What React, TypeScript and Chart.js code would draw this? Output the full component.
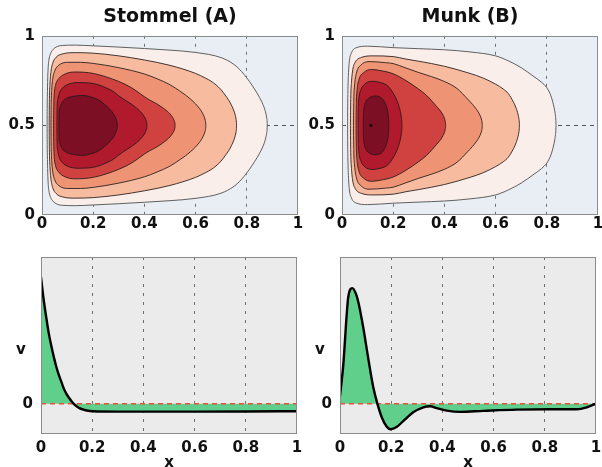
import React, { useEffect, useRef } from 'react';
import { Chart, registerables } from 'chart.js';

Chart.register(...registerables);

const FONT = '"DejaVu Sans", Arial, sans-serif';

// ---------- axis ticks ----------
const xTicks = [0, 0.2, 0.4, 0.6, 0.8, 1];
const xTickLabels = ['0', '0.2', '0.4', '0.6', '0.8', '1'];
const psiYTicks = [0, 0.5, 1];
const psiYTickLabels = ['0', '0.5', '1'];
const vYTicks = [0];
const vYTickLabels = ['0'];

const stommelTitle = 'Stommel (A)';
const munkTitle = 'Munk (B)';
const vLabel = 'v';
const xLabel = 'x';

// ---------- contour fills (outer -> inner) ----------
const contourFills = ['#faeeea', '#f7bba0', '#ee9474', '#cf4240', '#b1192d', '#7d0f25'];

// Stommel streamfunction contours: upper half edge [x, y], outer -> inner (symmetric about y = 0.5)
const stommelC1 = [[0.02, 0.5], [0.0202, 0.56], [0.0205, 0.62], [0.021, 0.67], [0.022, 0.74], [0.024, 0.82], [0.027, 0.865], [0.032, 0.895], [0.04, 0.918], [0.055, 0.937], [0.08, 0.946], [0.13, 0.948], [0.2, 0.944], [0.3, 0.937], [0.4, 0.929], [0.5, 0.92], [0.6, 0.907], [0.7, 0.878], [0.75, 0.84], [0.78, 0.8], [0.8, 0.765], [0.82, 0.725], [0.84, 0.68], [0.85, 0.655], [0.86, 0.627], [0.87, 0.59], [0.875, 0.563], [0.878, 0.54], [0.8795, 0.52], [0.88, 0.5]];
const stommelC2 = [[0.028, 0.5], [0.0283, 0.57], [0.029, 0.65], [0.031, 0.73], [0.035, 0.8], [0.042, 0.848], [0.055, 0.88], [0.08, 0.899], [0.13, 0.906], [0.2, 0.903], [0.3, 0.888], [0.4, 0.865], [0.5, 0.835], [0.6, 0.79], [0.64, 0.763], [0.66, 0.747], [0.68, 0.726], [0.7, 0.698], [0.715, 0.67], [0.73, 0.639], [0.74, 0.613], [0.75, 0.58], [0.755, 0.557], [0.758, 0.536], [0.7595, 0.518], [0.76, 0.5]];
const stommelC3 = [[0.035, 0.5], [0.0353, 0.56], [0.036, 0.63], [0.038, 0.7], [0.042, 0.76], [0.05, 0.805], [0.065, 0.835], [0.1, 0.852], [0.15, 0.852], [0.2, 0.846], [0.3, 0.822], [0.4, 0.787], [0.45, 0.76], [0.5, 0.727], [0.54, 0.69], [0.56, 0.67], [0.58, 0.647], [0.6, 0.62], [0.61, 0.604], [0.62, 0.585], [0.63, 0.56], [0.635, 0.542], [0.638, 0.527], [0.6395, 0.513], [0.64, 0.5]];
const stommelC4 = [[0.045, 0.5], [0.0453, 0.56], [0.046, 0.62], [0.048, 0.68], [0.053, 0.725], [0.065, 0.76], [0.09, 0.787], [0.13, 0.798], [0.2, 0.79], [0.3, 0.745], [0.35, 0.71], [0.4, 0.66], [0.42, 0.642], [0.45, 0.619], [0.47, 0.6], [0.49, 0.578], [0.5, 0.564], [0.51, 0.545], [0.515, 0.532], [0.518, 0.52], [0.5195, 0.51], [0.52, 0.5]];
const stommelC5 = [[0.058, 0.5], [0.0583, 0.55], [0.059, 0.6], [0.062, 0.645], [0.068, 0.68], [0.08, 0.708], [0.1, 0.728], [0.14, 0.739], [0.2, 0.734], [0.25, 0.71], [0.28, 0.688], [0.3, 0.665], [0.33, 0.636], [0.35, 0.618], [0.37, 0.596], [0.38, 0.583], [0.39, 0.568], [0.4, 0.548], [0.405, 0.534], [0.408, 0.521], [0.4095, 0.511], [0.41, 0.5]];
const stommelC6 = [[0.066, 0.5], [0.0663, 0.54], [0.067, 0.575], [0.07, 0.6], [0.078, 0.628], [0.095, 0.65], [0.12, 0.662], [0.16, 0.667], [0.2, 0.655], [0.22, 0.643], [0.244, 0.618], [0.264, 0.592], [0.274, 0.575], [0.284, 0.553], [0.289, 0.537], [0.292, 0.524], [0.2935, 0.512], [0.294, 0.5]];

// Munk streamfunction contours
const munkC1 = [[0.022, 0.5], [0.0222, 0.58], [0.023, 0.68], [0.025, 0.78], [0.029, 0.86], [0.037, 0.905], [0.055, 0.933], [0.1, 0.942], [0.2, 0.934], [0.3, 0.928], [0.4, 0.922], [0.5, 0.91], [0.6, 0.888], [0.65, 0.86], [0.7, 0.822], [0.75, 0.772], [0.78, 0.74], [0.8, 0.71], [0.816, 0.665], [0.826, 0.615], [0.831, 0.581], [0.834, 0.551], [0.8355, 0.526], [0.836, 0.5]];
const munkC2 = [[0.033, 0.5], [0.0333, 0.57], [0.034, 0.65], [0.037, 0.74], [0.042, 0.81], [0.052, 0.853], [0.075, 0.879], [0.12, 0.888], [0.2, 0.884], [0.25, 0.87], [0.3, 0.858], [0.4, 0.83], [0.5, 0.79], [0.55, 0.765], [0.6, 0.73], [0.63, 0.703], [0.65, 0.677], [0.67, 0.629], [0.68, 0.597], [0.688, 0.56], [0.691, 0.538], [0.6925, 0.519], [0.693, 0.5]];
const munkC3 = [[0.045, 0.5], [0.0453, 0.57], [0.046, 0.64], [0.049, 0.72], [0.056, 0.79], [0.075, 0.838], [0.11, 0.856], [0.17, 0.85], [0.2, 0.845], [0.25, 0.82], [0.3, 0.795], [0.35, 0.772], [0.4, 0.745], [0.45, 0.705], [0.49, 0.648], [0.51, 0.617], [0.525, 0.59], [0.535, 0.568], [0.543, 0.542], [0.546, 0.527], [0.5475, 0.513], [0.548, 0.5]];
const munkC4 = [[0.055, 0.5], [0.0553, 0.57], [0.056, 0.63], [0.059, 0.7], [0.066, 0.755], [0.085, 0.795], [0.115, 0.812], [0.15, 0.806], [0.2, 0.788], [0.25, 0.75], [0.3, 0.702], [0.33, 0.668], [0.35, 0.638], [0.37, 0.605], [0.385, 0.58], [0.395, 0.556], [0.4, 0.54], [0.403, 0.525], [0.4045, 0.5125], [0.405, 0.5]];
const munkC5 = [[0.063, 0.5], [0.0633, 0.56], [0.064, 0.61], [0.067, 0.66], [0.074, 0.7], [0.09, 0.732], [0.12, 0.746], [0.16, 0.735], [0.175, 0.725], [0.19, 0.702], [0.202, 0.675], [0.212, 0.648], [0.222, 0.61], [0.228, 0.577], [0.232, 0.545], [0.2335, 0.522], [0.234, 0.5]];
const munkC6 = [[0.083, 0.5], [0.0833, 0.54], [0.084, 0.57], [0.087, 0.605], [0.094, 0.635], [0.108, 0.655], [0.13, 0.664], [0.145, 0.66], [0.158, 0.648], [0.168, 0.625], [0.175, 0.6], [0.179, 0.575], [0.181, 0.553], [0.1825, 0.522], [0.183, 0.5]];
const munkCentre = [0.113, 0.5];

// ---------- meridional velocity v(x) ----------
const stommelX = [0, 0.01, 0.02, 0.03, 0.04, 0.05, 0.06, 0.07, 0.08, 0.09, 0.1, 0.11, 0.12, 0.13, 0.15, 0.17, 0.19, 0.22, 0.3, 0.4, 0.6, 0.8, 1.0];
const stommelV = [1.0, 0.83, 0.69, 0.56, 0.46, 0.37, 0.29, 0.225, 0.17, 0.115, 0.075, 0.045, 0.018, -0.005, -0.035, -0.05, -0.058, -0.062, -0.063, -0.063, -0.063, -0.062, -0.06];

const munkX = [0, 0.013, 0.026, 0.032, 0.048, 0.062, 0.072, 0.091, 0.111, 0.13, 0.146, 0.163, 0.182, 0.198, 0.221, 0.247, 0.286, 0.326, 0.352, 0.378, 0.417, 0.469, 0.56, 0.69, 0.82, 0.925, 0.964, 1.0];
const munkV = [0.06, 0.31, 0.7, 0.84, 0.914, 0.87, 0.8, 0.6, 0.35, 0.13, 0.0, -0.107, -0.18, -0.203, -0.185, -0.138, -0.068, -0.029, -0.021, -0.036, -0.055, -0.065, -0.057, -0.047, -0.044, -0.044, -0.029, 0.0];

const vMin = -0.24;
const vMax = 1.16;

const GREEN = '#5fcf8b';
const ZERO_RED = '#ee4f3a';

type Txt = { text: string; dx: number; dy: number; from: 'left' | 'center' };

function decor(bg: string, texts: Txt[]) {
  return {
    id: 'decor',
    beforeDraw(chart: any) {
      const { ctx, chartArea: a } = chart;
      ctx.save();
      ctx.fillStyle = bg;
      ctx.fillRect(a.left, a.top, a.right - a.left, a.bottom - a.top);
      ctx.restore();
    },
    afterDraw(chart: any) {
      const { ctx, chartArea: a } = chart;
      ctx.save();
      ctx.strokeStyle = '#8c8c8c';
      ctx.lineWidth = 1;
      ctx.strokeRect(Math.round(a.left) + 0.5, Math.round(a.top) + 0.5, Math.round(a.right - a.left) - 1, Math.round(a.bottom - a.top) - 1);
      ctx.fillStyle = '#111';
      ctx.font = 'bold 15px ' + FONT;
      ctx.textAlign = 'center';
      ctx.textBaseline = 'middle';
      for (const t of texts) {
        const x = t.from === 'left' ? a.left + t.dx : (a.left + a.right) / 2 + t.dx;
        ctx.fillText(t.text, x, a.top + t.dy);
      }
      ctx.restore();
    },
  };
}

const tickFont = { family: FONT, size: 15, weight: 'bold' as const };

function xScale(height: number, pad: number, gridColor: string, dash: number[], z: number) {
  return {
    type: 'linear' as const,
    min: 0,
    max: 1,
    z,
    afterBuildTicks: (s: any) => {
      s.ticks = xTicks.map((v) => ({ value: v }));
    },
    afterFit: (s: any) => {
      s.height = height;
    },
    ticks: {
      autoSkip: false,
      maxRotation: 0,
      minRotation: 0,
      padding: pad,
      color: '#111',
      font: tickFont,
      callback: (v: any) => {
        const i = xTicks.indexOf(v);
        return i >= 0 ? xTickLabels[i] : '';
      },
    },
    grid: {
      drawTicks: false,
      lineWidth: 1,
      color: (c: any) => (c.tick && c.tick.value > 0.01 && c.tick.value < 0.99 ? gridColor : 'rgba(0,0,0,0)'),
    },
    border: { display: false, dash },
  };
}

function contourChart(canvas: HTMLCanvasElement, title: string, contours: number[][][], dot: number[] | null) {
  const datasets: any[] = [];
  if (dot) {
    datasets.push({
      data: [{ x: dot[0], y: dot[1] }],
      showLine: false,
      pointRadius: 1.6,
      pointBackgroundColor: '#111',
      pointBorderWidth: 0,
      fill: false,
    });
  }
  for (let k = contours.length - 1; k >= 0; k--) {
    const top = contours[k].map((p) => ({ x: p[0], y: p[1] }));
    const bot = contours[k].map((p) => ({ x: p[0], y: 1 - p[1] }));
    const lc = k === 0 ? 'rgba(80,80,80,0.9)' : 'rgba(35,25,25,0.85)';
    datasets.push({
      data: top,
      borderColor: lc,
      borderWidth: 1,
      pointRadius: 0,
      fill: false,
      cubicInterpolationMode: 'monotone',
    });
    datasets.push({
      data: bot,
      borderColor: lc,
      borderWidth: 1,
      pointRadius: 0,
      fill: '-1',
      backgroundColor: contourFills[k],
      cubicInterpolationMode: 'monotone',
    });
  }
  return new Chart(canvas, {
    type: 'line',
    data: { datasets },
    options: {
      responsive: false,
      animation: false,
      events: [],
      devicePixelRatio: 1,
      layout: { padding: { left: 0, right: 22, top: 0, bottom: 0 } },
      plugins: {
        legend: { display: false },
        tooltip: { enabled: false },
        title: {
          display: true,
          text: title,
          color: '#111',
          font: { family: FONT, size: 19, weight: 'bold' },
          padding: { top: 6, bottom: 7 },
          fullSize: false,
        },
      },
      scales: {
        x: xScale(25, 0, '#707070', [3, 5], 1),
        y: {
          type: 'linear',
          min: 0,
          max: 1,
          z: 1,
          afterBuildTicks: (s: any) => {
            s.ticks = psiYTicks.map((v) => ({ value: v }));
          },
          afterFit: (s: any) => {
            s.width = 42;
          },
          ticks: {
            padding: 7,
            color: '#111',
            font: tickFont,
            callback: (v: any) => {
              const i = psiYTicks.indexOf(v);
              return i >= 0 ? psiYTickLabels[i] : '';
            },
          },
          grid: {
            drawTicks: false,
            lineWidth: 1,
            color: (c: any) => (c.tick && c.tick.value > 0.01 && c.tick.value < 0.99 ? '#555' : 'rgba(0,0,0,0)'),
          },
          border: { display: false, dash: [4, 4] },
        },
      },
    } as any,
    plugins: [decor('#e8eef3', [])],
  });
}

function vChart(canvas: HTMLCanvasElement, xs: number[], vs: number[]) {
  const curve = xs.map((x, i) => ({ x, y: vs[i] }));
  return new Chart(canvas, {
    type: 'line',
    data: {
      datasets: [
        {
          data: curve,
          borderColor: '#000',
          borderWidth: 2.4,
          pointRadius: 0,
          cubicInterpolationMode: 'monotone',
          backgroundColor: GREEN,
          fill: { target: 'origin', above: GREEN, below: GREEN },
        },
        {
          data: [{ x: 0, y: 0 }, { x: 1, y: 0 }],
          borderColor: ZERO_RED,
          borderWidth: 1.5,
          borderDash: [5, 4],
          pointRadius: 0,
          fill: false,
        },
      ],
    },
    options: {
      responsive: false,
      animation: false,
      events: [],
      devicePixelRatio: 1,
      layout: { padding: { left: 0, right: 23, top: 14, bottom: 0 } },
      plugins: {
        legend: { display: false },
        tooltip: { enabled: false },
        filler: { drawTime: 'beforeDatasetsDraw' },
      },
      scales: {
        x: xScale(33, 5, '#6e6e6e', [3, 6], 0),
        y: {
          type: 'linear',
          min: vMin,
          max: vMax,
          afterBuildTicks: (s: any) => {
            s.ticks = vYTicks.map((v) => ({ value: v }));
          },
          afterFit: (s: any) => {
            s.width = 41;
          },
          ticks: {
            padding: 8,
            color: '#111',
            font: tickFont,
            callback: (v: any) => {
              const i = vYTicks.indexOf(v);
              return i >= 0 ? vYTickLabels[i] : '';
            },
          },
          grid: { display: false, drawTicks: false },
          border: { display: false },
        },
      },
    } as any,
    plugins: [
      decor('#ebebeb', [
        { text: vLabel, dx: -20, dy: 93.5, from: 'left' },
        { text: xLabel, dx: 0, dy: 206, from: 'center' },
      ]),
    ],
  });
}

export default function App() {
  const tl = useRef<HTMLCanvasElement>(null);
  const tr = useRef<HTMLCanvasElement>(null);
  const bl = useRef<HTMLCanvasElement>(null);
  const br = useRef<HTMLCanvasElement>(null);

  useEffect(() => {
    const charts = [
      contourChart(tl.current!, stommelTitle, [stommelC1, stommelC2, stommelC3, stommelC4, stommelC5, stommelC6], null),
      contourChart(tr.current!, munkTitle, [munkC1, munkC2, munkC3, munkC4, munkC5, munkC6], munkCentre),
      vChart(bl.current!, stommelX, stommelV),
      vChart(br.current!, munkX, munkV),
    ];
    return () => charts.forEach((c) => c.destroy());
  }, []);

  const cs = (left: number, top: number): React.CSSProperties => ({
    position: 'absolute',
    left,
    top,
    display: 'block',
  });

  return (
    <div style={{ position: 'fixed', left: 0, top: 0, width: 602, height: 467, overflow: 'hidden', background: '#fff' }}>
      <canvas ref={tl} width={320} height={240} style={cs(0, 0)} />
      <canvas ref={tr} width={320} height={240} style={cs(300, 0)} />
      <canvas ref={bl} width={320} height={227} style={cs(0, 240)} />
      <canvas ref={br} width={320} height={227} style={cs(299, 240)} />
    </div>
  );
}
